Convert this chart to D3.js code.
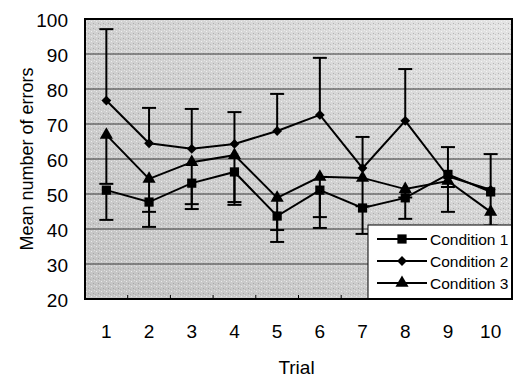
<!DOCTYPE html>
<html>
<head>
<meta charset="utf-8">
<script src="https://cdn.jsdelivr.net/npm/d3@7/dist/d3.min.js"></script>
<style>
  html, body { margin: 0; padding: 0; background: #fff; }
  svg { display: block; font-family: "Liberation Sans", Arial, sans-serif; }
</style>
</head>
<body>
<svg id="chart" width="515" height="378"></svg>
<script>
// trials on the x axis
const trials = ["1", "2", "3", "4", "5", "6", "7", "8", "9", "10"];
const yTicks = [20, 30, 40, 50, 60, 70, 80, 90, 100];

// means
const cond1 = [51.1, 47.7, 53.1, 56.3, 43.7, 51.1, 46.0, 48.9, 55.6, 50.6];
const cond2 = [76.7, 64.5, 62.9, 64.3, 68.0, 72.6, 57.4, 70.9, 55.0, 51.2];
const cond3 = [66.9, 54.3, 59.1, 61.1, 48.9, 54.9, 54.6, 51.4, 53.7, 44.9];

// one-sided error bars (end of the whisker)
const cond1Low = [42.6, 40.6, 45.7, 46.9, 36.3, 40.3, 38.6, 42.9, 44.9, 41.0];
const cond2High = [97.1, 74.6, 74.3, 73.4, 78.6, 88.9, 66.3, 85.7, 63.4, 61.4];
const cond3Low = [52.9, 44.9, 47.1, 47.7, 39.7, 43.4, 46.5, 49.0, 52.0, 37.0];

const names = ["Condition 1", "Condition 2", "Condition 3"];

const W = 515, H = 378;
const grid = { top: 19, left: 85, right: 3, bottom: 79 };

const svg = d3.select("#chart");

const x = d3.scaleBand()
    .domain(trials)
    .range([grid.left, W - grid.right]);
const y = d3.scaleLinear()
    .domain([20, 100])
    .range([H - grid.bottom, grid.top]);

// grey plot background, darker towards the lower left
const defs = svg.append("defs");
const grad = defs.append("linearGradient").attr("id", "shade")
    .attr("x1", 0).attr("y1", 1).attr("x2", 1).attr("y2", 0);
grad.append("stop").attr("offset", "0%").attr("stop-color", "#c4c4c4");
grad.append("stop").attr("offset", "55%").attr("stop-color", "#d3d3d3");
grad.append("stop").attr("offset", "100%").attr("stop-color", "#e4e4e4");

// fine speckle
const pat = defs.append("pattern").attr("id", "speck")
    .attr("width", 5).attr("height", 5)
    .attr("patternUnits", "userSpaceOnUse");
pat.append("rect").attr("x", 1).attr("y", 1).attr("width", 1).attr("height", 1).attr("fill", "#fff").attr("opacity", 0.6);
pat.append("rect").attr("x", 3).attr("y", 3).attr("width", 1).attr("height", 1).attr("fill", "#888").attr("opacity", 0.5);
pat.append("rect").attr("x", 4).attr("y", 0).attr("width", 1).attr("height", 1).attr("fill", "#fff").attr("opacity", 0.4);
pat.append("rect").attr("x", 0).attr("y", 4).attr("width", 1).attr("height", 1).attr("fill", "#999").attr("opacity", 0.4);

const pw = W - grid.right - grid.left;
const ph = H - grid.bottom - grid.top;

svg.append("rect")
    .attr("x", grid.left).attr("y", grid.top)
    .attr("width", pw).attr("height", ph)
    .attr("fill", "url(#shade)");
svg.append("rect")
    .attr("x", grid.left).attr("y", grid.top)
    .attr("width", pw).attr("height", ph)
    .attr("fill", "url(#speck)");

// gridlines
svg.append("g")
    .selectAll("line")
    .data(yTicks.filter(t => t > 20 && t < 100))
    .join("line")
    .attr("x1", grid.left).attr("x2", W - grid.right)
    .attr("y1", d => y(d)).attr("y2", d => y(d))
    .attr("stroke", "#3c3c3c")
    .attr("stroke-width", 1);

// y axis labels
const yAxis = d3.axisLeft(y)
    .tickValues(yTicks)
    .tickSize(0)
    .tickPadding(17);
const gy = svg.append("g")
    .attr("transform", `translate(${grid.left},0)`)
    .call(yAxis);
gy.select(".domain").remove();
gy.selectAll("text")
    .attr("font-size", 19)
    .attr("fill", "#000")
    .attr("font-family", "Liberation Sans, Arial, sans-serif")
    .attr("dy", "0.42em");

// x axis: labels below, small inward ticks at category edges
const xAxis = d3.axisBottom(x).tickSize(0).tickPadding(26);
const gx = svg.append("g")
    .attr("transform", `translate(0,${H - grid.bottom})`)
    .call(xAxis);
gx.select(".domain").remove();
gx.selectAll("text")
    .attr("font-size", 19)
    .attr("fill", "#000")
    .attr("font-family", "Liberation Sans, Arial, sans-serif");

svg.append("g")
    .selectAll("line")
    .data(trials.slice(1))
    .join("line")
    .attr("x1", d => x(d)).attr("x2", d => x(d))
    .attr("y1", H - grid.bottom).attr("y2", H - grid.bottom - 4)
    .attr("stroke", "#000")
    .attr("stroke-width", 1);

// axis titles
svg.append("text")
    .attr("transform", `translate(33,${(grid.top + H - grid.bottom) / 2}) rotate(-90)`)
    .attr("text-anchor", "middle")
    .attr("font-size", 18)
    .text("Mean number of errors");
svg.append("text")
    .attr("x", (grid.left + W - grid.right) / 2 - 2)
    .attr("y", 374)
    .attr("text-anchor", "middle")
    .attr("font-size", 19)
    .text("Trial");

const cx = d => x(d) + x.bandwidth() / 2;

// error bars
function errorBars(means, ends) {
    const g = svg.append("g").attr("stroke", "#000").attr("stroke-width", 2);
    const data = trials.map((t, i) => ({ t: t, m: means[i], e: ends[i] }));
    g.selectAll("line.stem")
        .data(data)
        .join("line")
        .attr("class", "stem")
        .attr("x1", d => cx(d.t)).attr("x2", d => cx(d.t))
        .attr("y1", d => y(d.m)).attr("y2", d => y(d.e));
    g.selectAll("line.cap")
        .data(data)
        .join("line")
        .attr("class", "cap")
        .attr("x1", d => cx(d.t) - 7).attr("x2", d => cx(d.t) + 7)
        .attr("y1", d => y(d.e)).attr("y2", d => y(d.e));
}
errorBars(cond1, cond1Low);
errorBars(cond2, cond2High);
errorBars(cond3, cond3Low);

const line = d3.line()
    .x((d, i) => cx(trials[i]))
    .y(d => y(d));

const series = [
    { vals: cond1, sym: d3.symbol(d3.symbolSquare, 85), rot: 0 },
    { vals: cond2, sym: d3.symbol(d3.symbolSquare, 48), rot: 45 },
    { vals: cond3, sym: d3.symbol(d3.symbolTriangle, 75), rot: 0 }
];

series.forEach(s => {
    svg.append("path")
        .datum(s.vals)
        .attr("d", line)
        .attr("fill", "none")
        .attr("stroke", "#000")
        .attr("stroke-width", 2);
});
series.forEach(s => {
    svg.append("g")
        .selectAll("path")
        .data(s.vals)
        .join("path")
        .attr("d", s.sym)
        .attr("transform", (d, i) => `translate(${cx(trials[i])},${y(d)}) rotate(${s.rot})`)
        .attr("fill", "#000");
});

// legend
const lg = svg.append("g").attr("transform", "translate(368,225)");
lg.append("rect")
    .attr("width", W - grid.right - 368)
    .attr("height", H - grid.bottom - 225)
    .attr("fill", "#fff")
    .attr("stroke", "#000")
    .attr("stroke-width", 1);
names.forEach((n, i) => {
    const row = lg.append("g").attr("transform", `translate(0,${14 + i * 22})`);
    row.append("line")
        .attr("x1", 9).attr("x2", 59)
        .attr("stroke", "#000").attr("stroke-width", 2);
    row.append("path")
        .attr("d", series[i].sym)
        .attr("transform", `translate(34,0) rotate(${series[i].rot})`)
        .attr("fill", "#000");
    row.append("text")
        .attr("x", 62)
        .attr("dy", "0.36em")
        .attr("font-size", 15.5)
        .text(n);
});

// plot border
svg.append("rect")
    .attr("x", grid.left).attr("y", grid.top)
    .attr("width", pw).attr("height", ph)
    .attr("fill", "none")
    .attr("stroke", "#000")
    .attr("stroke-width", 2);
</script>
</body>
</html>
